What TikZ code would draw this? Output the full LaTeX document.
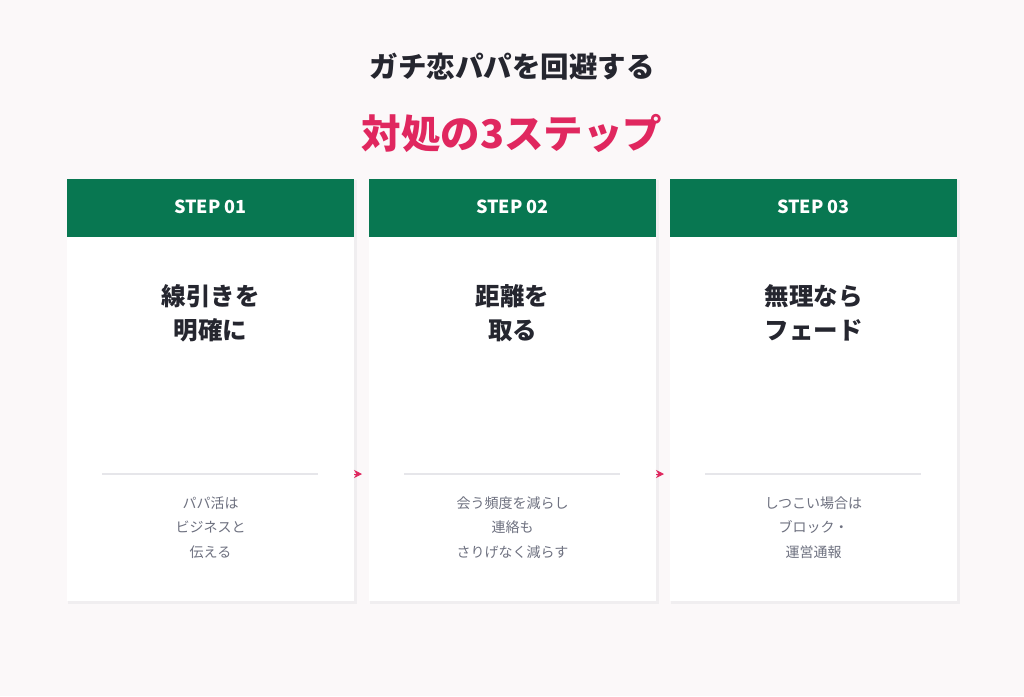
\documentclass[tikz,border=0pt]{standalone}
\usepackage{fontspec}
\setmainfont{Noto Sans CJK JP}
\newfontfamily\jp{Noto Sans CJK JP}
\usetikzlibrary{arrows.meta}
\definecolor{bgc}{HTML}{FBF8F9}
\definecolor{greenc}{HTML}{087751}
\definecolor{darkc}{HTML}{25262F}
\definecolor{pinkc}{HTML}{E0275F}
\definecolor{grayc}{HTML}{6E7180}
\definecolor{linec}{HTML}{E6E6EA}
\definecolor{shadc}{HTML}{F0EEF0}
\tikzset{
  card/.style={fill=white, draw=none},
  shad/.style={fill=shadc, draw=none},
  head/.style={fill=greenc, draw=none},
  steplabel/.style={text=white, font=\jp\bfseries\fontsize{18}{20}\selectfont},
  ctitle/.style={text=darkc, font=\jp\bfseries\fontsize{24.5}{34}\selectfont, align=center},
  cbody/.style={text=grayc, font=\jp\fontsize{14}{24.5}\selectfont, align=center},
  divline/.style={draw=linec, line width=1.2pt},
  arrowc/.style={draw=pinkc, fill=pinkc, line width=0.8pt, -{Stealth[length=8pt,width=8pt,inset=2.5pt]}},
}
\begin{document}
\begin{tikzpicture}[x=1pt,y=-1pt]
\fill[bgc] (0,0) rectangle (1024,696);
\useasboundingbox (0,0) rectangle (1024,696);
\node[text=darkc, font=\jp\bfseries\fontsize{28.5}{32}\selectfont] (t1) at (512,67) {ガチ恋パパを回避する};
\node[text=pinkc, font=\jp\bfseries\fontsize{39.5}{44}\selectfont] (t2) at (512,133) {対処の3ステップ};
\foreach \i/\x/\s/\ta/\ba in {
  1/67/01/{線引きを\\明確に}/{パパ活は\\ビジネスと\\伝える},
  2/369/02/{距離を\\取る}/{会う頻度を減らし\\連絡も\\さりげなく減らす},
  3/670/03/{無理なら\\フェード}/{しつこい場合は\\ブロック・\\運営通報}}{
  \fill[shad] (\x+1,180) rectangle (\x+290,604);
  \fill[card] (\x,179) rectangle (\x+287,601);
  \fill[head] (\x,179) rectangle (\x+287,237);
  \node[steplabel] (s\i) at (\x+143.5,207) {STEP \s};
  \node[ctitle] (ct\i) at (\x+143.5,313) {\ta};
  \coordinate (la\i) at (\x+35,474);
  \coordinate (lb\i) at (\x+251,474);
  \draw[divline] (la\i) -- (lb\i);
  \node[cbody] (cb\i) at (\x+143.5,527.5) {\ba};
  \coordinate (ce\i) at (\x+287,474);
  \coordinate (cw\i) at (\x,474);
}
\draw[arrowc] (ce1) -- ([xshift=8pt]ce1);
\draw[arrowc] (ce2) -- ([xshift=8pt]ce2);
\end{tikzpicture}
\end{document}
